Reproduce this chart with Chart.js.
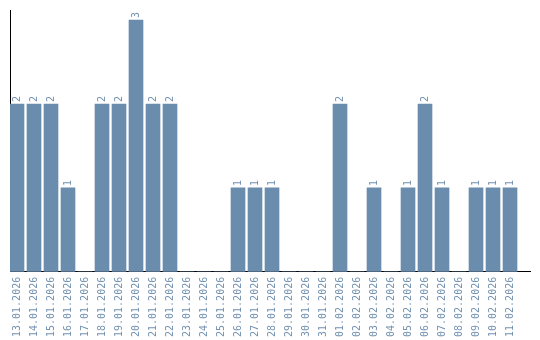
<!DOCTYPE html>
<html lang="en">
<head>
  <meta charset="UTF-8">
  <title>Daily count</title>
  <script src="https://cdn.jsdelivr.net/npm/chart.js"></script>
  <style>
    html, body {
      margin: 0;
      padding: 0;
      background: #fff;
    }
    .chart-container {
      width: 540px;
      height: 340px;
    }
  </style>
</head>
<body>
  <div class="chart-container">
    <canvas id="dailyChart"></canvas>
  </div>

  <script>
    const dates = [
      '13.01.2026', '14.01.2026', '15.01.2026', '16.01.2026', '17.01.2026',
      '18.01.2026', '19.01.2026', '20.01.2026', '21.01.2026', '22.01.2026',
      '23.01.2026', '24.01.2026', '25.01.2026', '26.01.2026', '27.01.2026',
      '28.01.2026', '29.01.2026', '30.01.2026', '31.01.2026', '01.02.2026',
      '02.02.2026', '03.02.2026', '04.02.2026', '05.02.2026', '06.02.2026',
      '07.02.2026', '08.02.2026', '09.02.2026', '10.02.2026', '11.02.2026'
    ];
    const counts = [
      2, 2, 2, 1, 0,
      2, 2, 3, 2, 2,
      0, 0, 0, 1, 1,
      1, 0, 0, 0, 2,
      0, 1, 0, 1, 2,
      1, 0, 1, 1, 1
    ];

    const barColor = '#6b8dad';
    const textColor = '#7391b0';
    const monoFont = { family: 'DejaVu Sans Mono', size: 10 };

    // bars sit flush against the y axis, with spare room at the right end
    const points = counts.map((v, i) => ({ x: i, y: v }));

    // draws the value above each bar, rotated like the axis labels
    const valueLabels = {
      id: 'valueLabels',
      afterDatasetsDraw(chart) {
        const ctx = chart.ctx;
        const meta = chart.getDatasetMeta(0);
        ctx.save();
        ctx.font = monoFont.size + 'px ' + monoFont.family;
        ctx.fillStyle = textColor;
        ctx.textAlign = 'left';
        ctx.textBaseline = 'middle';
        meta.data.forEach((bar, i) => {
          const v = counts[i];
          if (!v) return;
          ctx.save();
          ctx.translate(bar.x, bar.y - 2);
          ctx.rotate(-Math.PI / 2);
          ctx.fillText(String(v), 0, 0);
          ctx.restore();
        });
        ctx.restore();
      }
    };

    new Chart(document.getElementById('dailyChart'), {
      type: 'bar',
      data: {
        datasets: [{
          data: points,
          backgroundColor: barColor,
          barThickness: 14
        }]
      },
      options: {
        responsive: true,
        maintainAspectRatio: false,
        animation: false,
        layout: { padding: { top: 10, right: 10, left: 10, bottom: -2 } },
        plugins: {
          legend: { display: false },
          tooltip: { enabled: false }
        },
        scales: {
          x: {
            type: 'linear',
            offset: false,
            min: -0.412,
            max: 30.176,
            grid: { display: false, drawTicks: false },
            border: { color: '#000', width: 1 },
            ticks: {
              stepSize: 1,
              includeBounds: false,
              color: textColor,
              font: monoFont,
              minRotation: 90,
              maxRotation: 90,
              autoSkip: false,
              padding: 5,
              callback: v => dates[v]
            }
          },
          y: {
            min: 0,
            max: 3.12,
            grid: { display: false, drawTicks: false },
            border: { color: '#000', width: 1 },
            ticks: { display: false }
          }
        }
      },
      plugins: [valueLabels]
    });
  </script>
</body>
</html>
